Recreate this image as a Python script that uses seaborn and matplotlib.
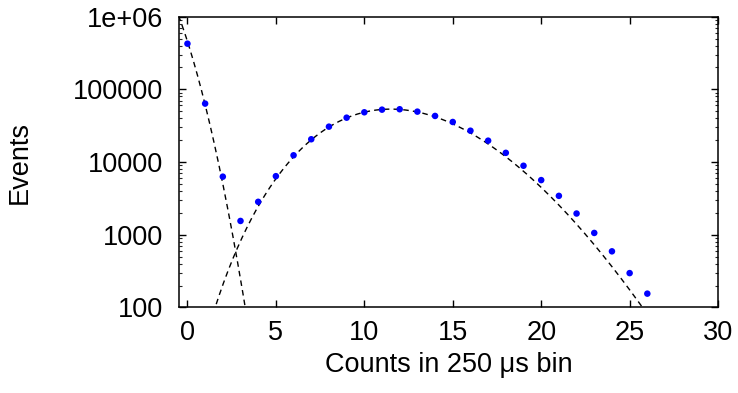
import math
import numpy as np
import pandas as pd
import matplotlib
matplotlib.use("Agg")
import matplotlib.pyplot as plt
import seaborn as sns
from matplotlib.ticker import FixedLocator, FixedFormatter, LogLocator, NullFormatter

# ---- data ----
counts = list(range(27))
events = [425000, 63700, 6300, 1550, 2840, 6400, 12400, 20600, 30700, 40800,
          48400, 52600, 53300, 49400, 43100, 35600, 27000, 19700, 13400, 8900,
          5650, 3430, 1960, 1060, 592, 297, 155]

# fit components (dashed curves)
noise_log10_coef = [5.66, -0.76, -0.11]   # log10(y) = a + b x + c x^2
signal_total = 463000                      # Poisson normalisation
signal_mean = 12.0                         # Poisson mean

x_ticks = [0, 5, 10, 15, 20, 25, 30]
y_ticks = [100, 1000, 10000, 100000, 1000000]
y_tick_labels = ["100", "1000", "10000", "100000", "1e+06"]

# ---- style ----
sns.set_style("ticks")
plt.rcParams["font.family"] = ["Liberation Sans", "DejaVu Sans"]
plt.rcParams["text.color"] = "black"
plt.rcParams["axes.labelcolor"] = "black"

fig = plt.figure(figsize=(7.38, 3.93), dpi=100)
ax = fig.add_axes([0.242, 0.2176, 0.731, 0.740])

# model curves
xa = np.linspace(-0.5, 3.6, 200)
a, b, c = noise_log10_coef
ya = 10 ** (a + b * xa + c * xa ** 2)
xb = np.linspace(1.0, 27.0, 400)
lg = np.array([math.lgamma(v + 1) for v in xb])
yb = np.exp(math.log(signal_total) - signal_mean + xb * math.log(signal_mean) - lg)

curves = pd.concat([
    pd.DataFrame({"x": xa, "y": ya, "part": "noise"}),
    pd.DataFrame({"x": xb, "y": yb, "part": "signal"}),
])
for part, sub in curves.groupby("part"):
    sns.lineplot(data=sub, x="x", y="y", ax=ax, color="black", lw=1.0,
                 estimator=None, sort=False, dashes=False)
for line in ax.get_lines():
    line.set_dashes((4, 3))

df = pd.DataFrame({"counts": counts, "events": events})
sns.scatterplot(data=df, x="counts", y="events", ax=ax, color="#0000ff",
                s=22, edgecolor="none", zorder=3)

ax.set_yscale("log")
ax.set_xlim(-0.5, 30)
ax.set_ylim(100, 1e6)
ax.xaxis.set_major_locator(FixedLocator(x_ticks))
ax.yaxis.set_major_locator(FixedLocator(y_ticks))
ax.yaxis.set_major_formatter(FixedFormatter(y_tick_labels))
ax.yaxis.set_minor_locator(LogLocator(base=10, subs=np.arange(2, 10)))
ax.yaxis.set_minor_formatter(NullFormatter())

for s in ax.spines.values():
    s.set_visible(True)
    s.set_linewidth(1.1)
    s.set_color("black")

ax.tick_params(axis="both", which="major", direction="in", length=5, width=1,
               top=True, right=True, labelsize=19.5, colors="black")
ax.tick_params(axis="y", which="major", pad=11)
ax.tick_params(axis="x", which="major", pad=9)
ax.tick_params(axis="y", which="minor", direction="in", length=2.5, width=0.8,
               left=True, right=True)

ax.set_xlabel("Counts in 250 \u03bcs bin", fontsize=19.5, color="black")
ax.set_ylabel("Events", fontsize=19.5, color="black")
ax.xaxis.label.set_va("center")
ax.yaxis.label.set_va("center")
ax.xaxis.set_label_coords(0.5, -0.198)
ax.yaxis.set_label_coords(-0.294, 0.5)
ax.grid(False)

fig.savefig("out.png", dpi=100)
